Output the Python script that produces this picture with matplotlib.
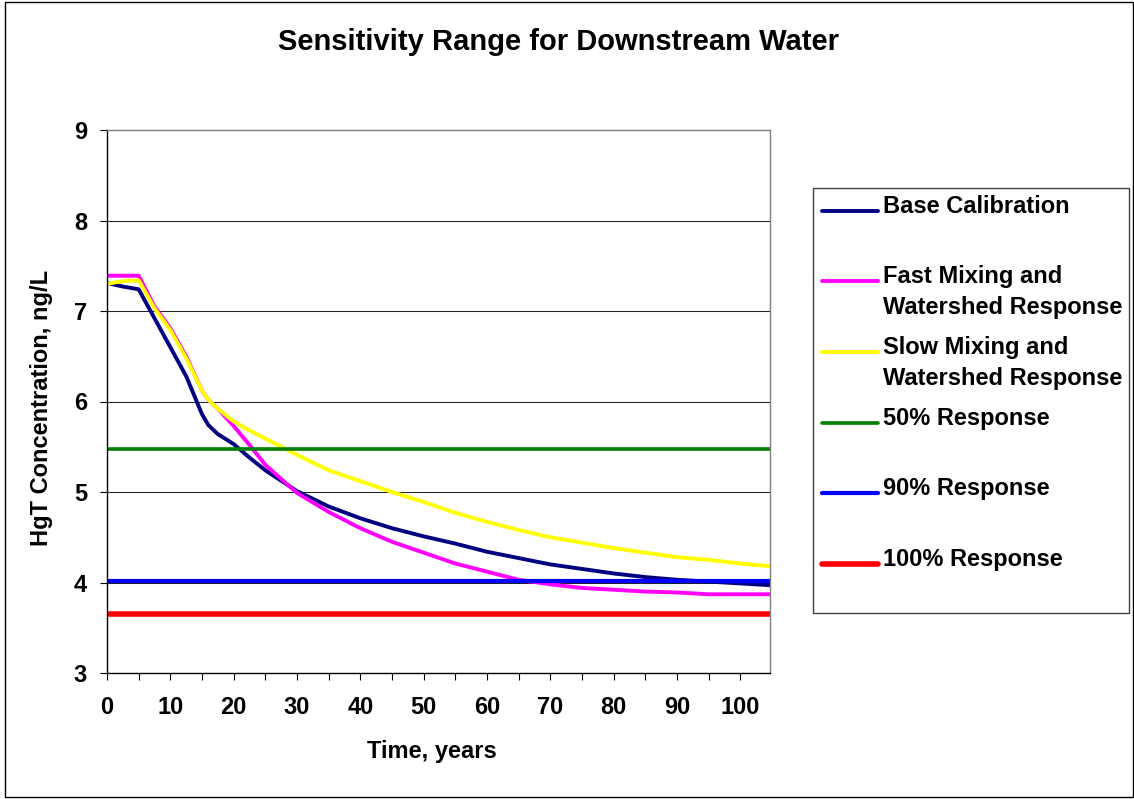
import numpy as np
import matplotlib
matplotlib.use('Agg')
import matplotlib.pyplot as plt
from matplotlib.lines import Line2D
from matplotlib.patches import Rectangle

plt.rcParams['font.family'] = ['Liberation Sans', 'DejaVu Sans']
plt.rcParams['font.weight'] = 'bold'

# Tiempo (años)
years = [0, 2.5, 5, 7.5, 10, 12.5, 15, 16, 17.5, 20, 22.5, 25, 30, 35, 40, 45,
         50, 55, 60, 65, 70, 75, 80, 85, 90, 95, 100, 104.7]

# Curvas del modelo (HgT, ng/L)
base = [7.31, 7.27, 7.24, 6.92, 6.60, 6.28, 5.86, 5.74, 5.64, 5.53, 5.38, 5.24,
        5.01, 4.84, 4.71, 4.60, 4.51, 4.43, 4.34, 4.27, 4.20, 4.15, 4.10, 4.06,
        4.03, 4.01, 3.99, 3.97]
fast = [7.39, 7.39, 7.39, 7.05, 6.81, 6.50, 6.12, 6.02, 5.92, 5.73, 5.52, 5.30,
        4.99, 4.78, 4.60, 4.45, 4.33, 4.21, 4.12, 4.03, 3.98, 3.94, 3.92, 3.90,
        3.89, 3.87, 3.87, 3.87]
slow = [7.30, 7.33, 7.34, 7.03, 6.79, 6.48, 6.12, 6.02, 5.92, 5.78, 5.68, 5.59,
        5.41, 5.24, 5.12, 5.00, 4.89, 4.77, 4.67, 4.58, 4.50, 4.44, 4.38, 4.33,
        4.28, 4.25, 4.21, 4.18]

# Niveles de respuesta
levels = [5.475, 4.02, 3.655]

names = ['Base Calibration', 'Fast Mixing and\nWatershed Response',
         'Slow Mixing and\nWatershed Response', '50% Response',
         '90% Response', '100% Response']
colors = ['#000080', '#FF00FF', '#FFFF00', '#008000', '#0000FF', '#FF0000']
widths = [2.8, 2.8, 2.8, 2.6, 3.0, 4.0]

W, H = 1134, 799
fig = plt.figure(figsize=(W / 100, H / 100), dpi=100)
ax = fig.add_axes([107 / W, 1 - 673 / H, (770 - 107) / W, (673 - 130) / H])

curves = [base, fast, slow]
for k in range(3):
    ax.plot(years, curves[k], color=colors[k], lw=widths[k], solid_capstyle='butt')
for k in range(3):
    ax.plot([years[0], years[-1]], [levels[k], levels[k]], color=colors[k + 3],
            lw=widths[k + 3], solid_capstyle='round')

ax.set_xlim(0, 104.7)
ax.set_ylim(3, 9)
ax.set_yticks(range(3, 10))
ax.set_xticks(range(0, 101, 10))
ax.set_xticks(range(5, 101, 10), minor=True)
for y in range(4, 9):
    ax.axhline(y, color='#222222', lw=0.75, zorder=0)

ax.tick_params(axis='both', direction='out', length=5.3, width=0.8, color='black',
               labelsize=17)
ax.tick_params(axis='x', which='minor', direction='out', length=5.3, width=0.8)
ax.tick_params(axis='x', pad=11)
ax.tick_params(axis='y', pad=9)
for lab in ax.get_xticklabels() + ax.get_yticklabels():
    lab.set_fontweight('bold')

ax.spines['left'].set_color('black')
ax.spines['bottom'].set_color('black')
ax.spines['top'].set_color('#808080')
ax.spines['right'].set_color('#808080')
for s in ax.spines.values():
    s.set_linewidth(1.0)

# Títulos
fig.text(558.5 / W, 1 - 50 / H, 'Sensitivity Range for Downstream Water',
         ha='center', va='baseline', fontsize=21, fontweight='bold')
fig.text(431.5 / W, 1 - 758 / H, 'Time, years', ha='center', va='baseline',
         fontsize=17, fontweight='bold')
fig.text(42 / W, 1 - 408 / H, 'HgT Concentration, ng/L', ha='center', va='center',
         rotation=90, fontsize=17, fontweight='bold')

# Leyenda
fig.add_artist(Rectangle((813 / W, 1 - 613 / H), (1129 - 813) / W, (613 - 188) / H,
                         transform=fig.transFigure, facecolor='white',
                         edgecolor='#404040', lw=1.0))
for i, name in enumerate(names):
    yy = 210.7 + 70.6 * i
    fig.add_artist(Line2D([822 / W, 878 / W], [1 - yy / H, 1 - yy / H],
                          transform=fig.transFigure, color=colors[i], lw=widths[i],
                          solid_capstyle='round'))
    for j, line in enumerate(name.split('\n')):
        fig.text(883 / W, 1 - (yy + 2 + 30.7 * j) / H, line, ha='left',
                 va='baseline', fontsize=17, fontweight='bold')

# Marco exterior
fig.add_artist(Rectangle((5 / W, 2 / H), 1128 / W, 795 / H, transform=fig.transFigure,
                         fill=False, edgecolor='black', lw=1.0))

fig.savefig('out.png', dpi=100, facecolor='white')
